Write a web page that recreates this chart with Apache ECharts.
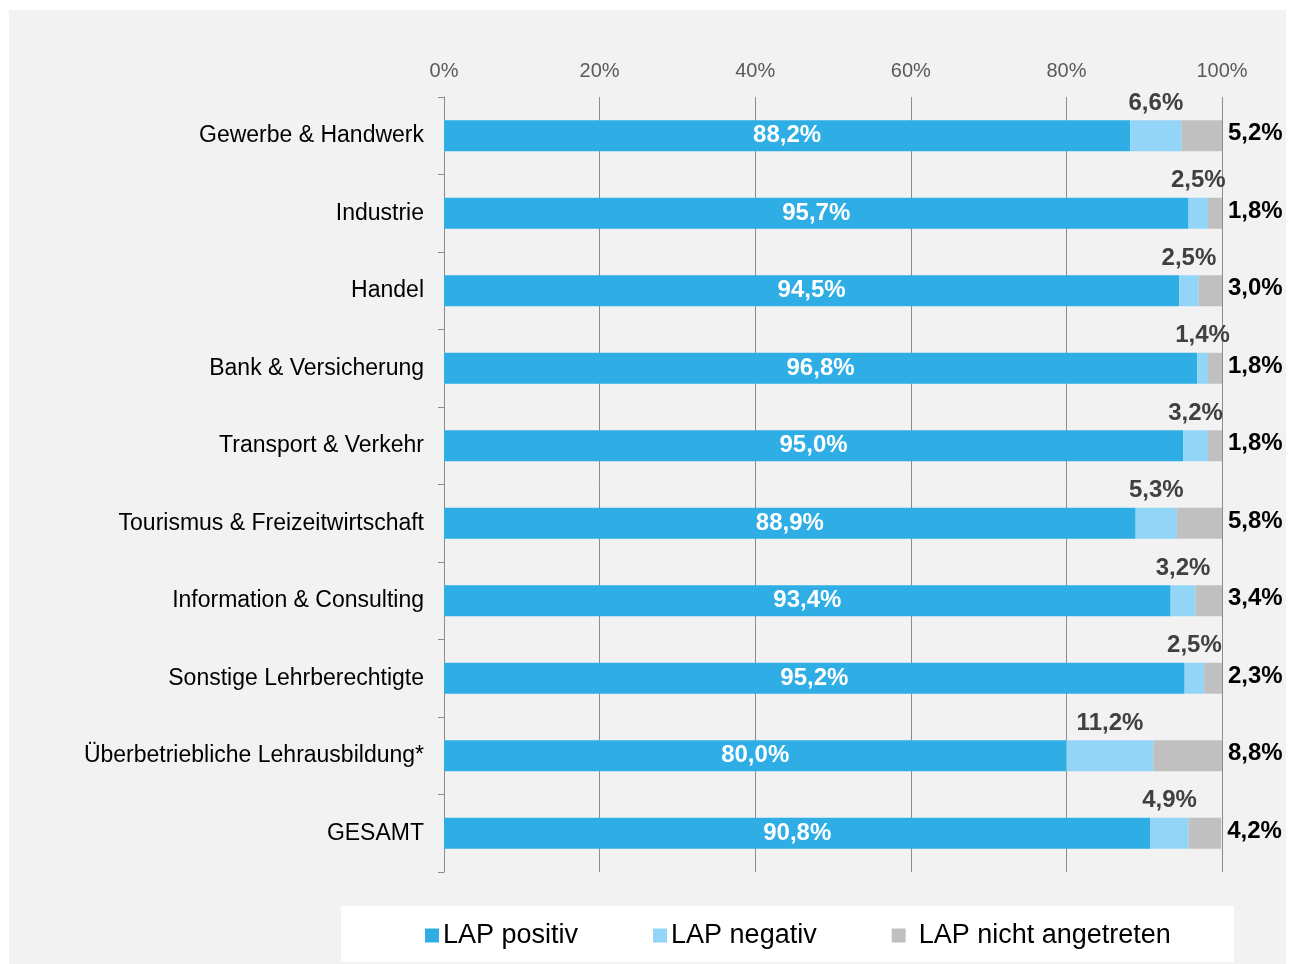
<!DOCTYPE html>
<html>
<head>
<meta charset="utf-8">
<script src="https://cdn.jsdelivr.net/npm/echarts@6/dist/echarts.min.js"></script>
<style>
  html, body { margin: 0; padding: 0; background: #ffffff; }
  #chart { width: 1295px; height: 964px; }
</style>
</head>
<body>
<div id="chart"></div>
<script>
// Lehrabschlussprüfung nach Sparte (Anteile in %)
const categories = [
  'Gewerbe & Handwerk',
  'Industrie',
  'Handel',
  'Bank & Versicherung',
  'Transport & Verkehr',
  'Tourismus & Freizeitwirtschaft',
  'Information & Consulting',
  'Sonstige Lehrberechtigte',
  'Überbetriebliche Lehrausbildung*',
  'GESAMT'
];
const lapPositiv = [88.2, 95.7, 94.5, 96.8, 95.0, 88.9, 93.4, 95.2, 80.0, 90.8];
const lapNegativ = [6.6, 2.5, 2.5, 1.4, 3.2, 5.3, 3.2, 2.5, 11.2, 4.9];
const lapNichtAngetreten = [5.2, 1.8, 3.0, 1.8, 1.8, 5.8, 3.4, 2.3, 8.8, 4.2];
const seriesNames = ['LAP positiv', 'LAP negativ', 'LAP nicht angetreten'];
const axisTicks = [0, 20, 40, 60, 80, 100];

const FONT = "'Liberation Sans', Arial, Helvetica, sans-serif";
const pct = v => v.toFixed(1).replace('.', ',') + '%';

const chart = echarts.init(document.getElementById('chart'), null, { renderer: 'canvas' });

chart.setOption({
  backgroundColor: '#ffffff',
  animation: false,
  textStyle: { fontFamily: FONT },
  graphic: [
    {
      type: 'rect', z: -10, silent: true,
      shape: { x: 9, y: 10, width: 1277, height: 960 },
      style: { fill: '#f2f2f2' }
    },
    {
      type: 'rect', z: -9, silent: true,
      shape: { x: 341, y: 906, width: 893, height: 56 },
      style: { fill: '#ffffff' }
    }
  ],
  grid: { left: 444, right: 73, top: 97, bottom: 92, containLabel: false },
  legend: {
    left: 420,
    top: 917,
    icon: 'rect',
    itemWidth: 14,
    itemHeight: 14,
    itemGap: 75,
    data: [
      { name: seriesNames[0] },
      { name: seriesNames[1] },
      { name: seriesNames[2], textStyle: { padding: [0, 0, 0, 8] } }
    ],
    textStyle: { fontFamily: FONT, fontSize: 27, color: '#000000', padding: [0, 0, 0, -1] }
  },
  xAxis: {
    type: 'value',
    position: 'top',
    min: axisTicks[0],
    max: axisTicks[axisTicks.length - 1],
    interval: axisTicks[1] - axisTicks[0],
    axisLine: { show: false },
    axisTick: { show: false },
    axisLabel: {
      formatter: '{value}%',
      color: '#595959',
      fontSize: 20,
      fontFamily: FONT,
      margin: 16
    },
    splitLine: { show: true, lineStyle: { color: '#8c8c8c', width: 1 } }
  },
  yAxis: {
    type: 'category',
    inverse: true,
    data: categories,
    axisLine: { show: true, lineStyle: { color: '#8c8c8c', width: 1 } },
    axisTick: { show: true, length: 6, lineStyle: { color: '#8c8c8c' } },
    axisLabel: { color: '#000000', fontSize: 23, fontFamily: FONT, margin: 20 }
  },
  series: [
    {
      name: seriesNames[0],
      type: 'bar',
      stack: 'lap',
      barWidth: 31,
      data: lapPositiv,
      itemStyle: { color: '#2eaee4' },
      label: {
        show: true,
        position: 'inside',
        color: '#ffffff',
        fontWeight: 'bold',
        fontSize: 24,
        fontFamily: FONT,
        formatter: p => pct(p.value)
      }
    },
    {
      name: seriesNames[1],
      type: 'bar',
      stack: 'lap',
      barWidth: 31,
      data: lapNegativ,
      itemStyle: { color: '#93d5f6' },
      label: {
        show: true,
        position: 'top',
        distance: 5,
        color: '#404040',
        fontWeight: 'bold',
        fontSize: 24,
        fontFamily: FONT,
        formatter: p => pct(p.value)
      }
    },
    {
      name: seriesNames[2],
      type: 'bar',
      stack: 'lap',
      barWidth: 31,
      data: lapNichtAngetreten,
      itemStyle: { color: '#c0c0c0' },
      label: {
        show: true,
        position: 'right',
        distance: 6,
        offset: [0, -2],
        color: '#000000',
        fontWeight: 'bold',
        fontSize: 24,
        fontFamily: FONT,
        formatter: p => pct(p.value)
      }
    }
  ]
});
</script>
</body>
</html>
